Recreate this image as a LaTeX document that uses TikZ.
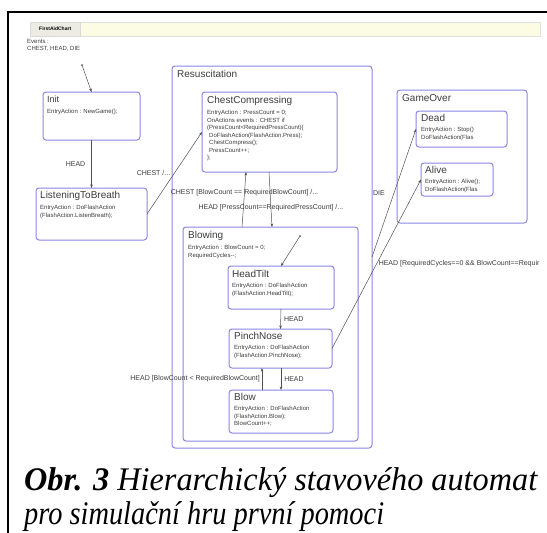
\documentclass[tikz,border=0pt]{standalone}
\usepackage{fontspec}
\setmainfont{Liberation Serif}
\newfontfamily\chartfont{Liberation Sans}
\usetikzlibrary{arrows.meta}
\definecolor{stateblue}{RGB}{138,134,228}
\definecolor{wiregray}{RGB}{80,80,80}
\definecolor{textgray}{RGB}{60,60,60}
\definecolor{barcream}{RGB}{252,252,228}
\definecolor{tabgray}{RGB}{236,236,228}
\begin{document}
\begin{tikzpicture}[x=1pt,y=-1pt,
    state/.style={draw=stateblue,line width=1pt,rounded corners=3pt,fill=white,inner sep=0pt,outer sep=0pt},
    sname/.style={anchor=north west,inner sep=0pt,text=textgray,font=\chartfont\fontsize{10}{12}\selectfont},
    sact/.style={anchor=north west,inner sep=0pt,align=left,text=textgray,font=\chartfont\fontsize{6}{7.5}\selectfont},
    trans/.style={draw=wiregray,line width=0.5pt,-{Stealth[length=3.5pt,width=2.6pt]}},
    tlabel/.style={inner sep=1pt,text=textgray,font=\chartfont\fontsize{7}{8}\selectfont},
    dot/.style={circle,fill=wiregray,inner sep=0pt,minimum size=2pt},
    caption/.style={anchor=base west,inner sep=0pt,font=\fontsize{33}{34}\selectfont\itshape}]
  \useasboundingbox (0,0) rectangle (547,533);
  % frame, open at right and bottom
  \draw[line width=2pt] (7,12) -- (547,12);
  \draw[line width=2pt] (8,11) -- (8,533);
  % chart header
  \filldraw[fill=barcream,draw=black!12] (80,22) rectangle (540,36);
  \node[fill=tabgray,draw=black!15,anchor=north west,minimum width=50pt,minimum height=14pt,inner sep=1pt,
        font=\chartfont\bfseries\fontsize{5}{6}\selectfont] (tab) at (30,22) {FirstAidChart};
  \node[sact] (events) at (27,39) {Events :\\CHEST, HEAD, DIE};

  % top level states
  \node[state,minimum width=97pt,minimum height=48pt] (init) at (91.5,116) {}; % Init
  \node[sname,font=\chartfont\fontsize{9}{11}\selectfont] at (47,96) {Init};
  \node[sact] at (47,109) {EntryAction : NewGame();};
  \node[state,minimum width=111pt,minimum height=52pt] (listen) at (91.5,214) {}; % ListeningToBreath
  \node[sname] at (40,191) {ListeningToBreath};
  \node[sact] at (40,205) {EntryAction : DoFlashAction\\(FlashAction.ListenBreath);};

  % Resuscitation
  \node[state,minimum width=200pt,minimum height=382pt] (resus) at (272,257) {};
  \node[sname] at (177,70) {Resuscitation};
  \node[state,minimum width=135pt,minimum height=80pt] (chest) at (269.5,132) {}; % ChestCompressing
  \node[sname] at (207,96) {ChestCompressing};
  \node[sact] at (207,110) {EntryAction : PressCount = 0;\\OnActions events : CHEST if\\(PressCount<RequiredPressCount)\{\\
    \hspace*{2pt}DoFlashAction(FlashAction.Press);\\\hspace*{2pt}ChestCompress();\\\hspace*{2pt}PressCount++;\\\};};
  \node[state,minimum width=175pt,minimum height=214pt] (blowing) at (270.5,334) {}; % Blowing
  \node[sname] at (188,231) {Blowing};
  \node[sact] at (188,245) {EntryAction : BlowCount = 0;\\RequiredCycles--;};
  \node[state,minimum width=106pt,minimum height=43pt] (headtilt) at (281,287.5) {}; % HeadTilt
  \node[sname] at (232,270) {HeadTilt};
  \node[sact] at (232,283) {EntryAction : DoFlashAction\\(FlashAction.HeadTilt);};
  \node[state,minimum width=103pt,minimum height=39pt] (pinch) at (280.5,348.5) {}; % PinchNose
  \node[sname] at (234,332) {PinchNose};
  \node[sact] at (234,345) {EntryAction : DoFlashAction\\(FlashAction.PinchNose);};
  \node[state,minimum width=104pt,minimum height=43pt] (blow) at (281,411.5) {}; % Blow
  \node[sname] at (234,393) {Blow};
  \node[sact] at (234,406) {EntryAction : DoFlashAction\\(FlashAction.Blow);\\BlowCount++;};

  % GameOver
  \node[state,minimum width=130pt,minimum height=133pt] (gameover) at (462,156.5) {};
  \node[sname] at (402,94) {GameOver};
  \node[state,minimum width=91pt,minimum height=36pt] (dead) at (461.5,129) {}; % Dead
  \node[sname] at (421,114) {Dead};
  \node[sact] at (421,127) {EntryAction : Stop()\\DoFlashAction(Flas};
  \node[state,minimum width=72pt,minimum height=33pt] (alive) at (457,179.5) {}; % Alive
  \node[sname] at (425,166) {Alive};
  \node[sact] at (425,179) {EntryAction : Alive();\\DoFlashAction(Flas};

  % transitions
  \node[dot] (start) at (82,65) {};
  \draw[trans] (start) -- (init.north);
  \draw[trans] (init.south) -- node[tlabel,left=5pt] {HEAD} (listen.north);
  \draw[trans] (listen.east) -- node[tlabel,left=3pt] {CHEST /...} (chest.west);
  \draw[trans] ([xshift=-28.5pt]blowing.north) -- node[tlabel,pos=0.62] {CHEST [BlowCount == RequiredBlowCount] /...} ([xshift=-23.5pt]chest.south);
  \draw[trans] ([xshift=-0.5pt]chest.south) -- node[tlabel,pos=0.64] {HEAD [PressCount==RequiredPressCount] /...} ([xshift=1.5pt]blowing.north);
  \node[dot] (bstart) at (300,236) {};
  \draw[trans] (bstart) -- (headtilt.north);
  \draw[trans] (headtilt.south) -- node[tlabel,right=2pt] {HEAD} (pinch.north);
  \draw[trans] ([xshift=0.5pt]pinch.south) -- node[tlabel,right=2pt] {HEAD} (blow.north);
  \draw[trans] ([xshift=-19pt]blow.north) -- node[tlabel,left=1pt] {HEAD [BlowCount < RequiredBlowCount]} ([xshift=-18.5pt]pinch.south);
  \draw[trans] (resus.east) -- node[tlabel,left=8pt] {DIE} (dead.west);
  \draw[trans] (pinch.east) -- node[tlabel,right=1pt,pos=0.5] {HEAD [RequiredCycles==0 \&\& BlowCount==Requir} (alive.west);

  % caption
  \node[caption] (cap1) at (24,490) {\resizebox{513pt}{\height}{\textbf{Obr. 3} Hierarchický stavového automat}};
  \node[caption] (cap2) at (24,524) {\scalebox{0.86}[1]{pro simulační hru první pomoci}};
\end{tikzpicture}
\end{document}
